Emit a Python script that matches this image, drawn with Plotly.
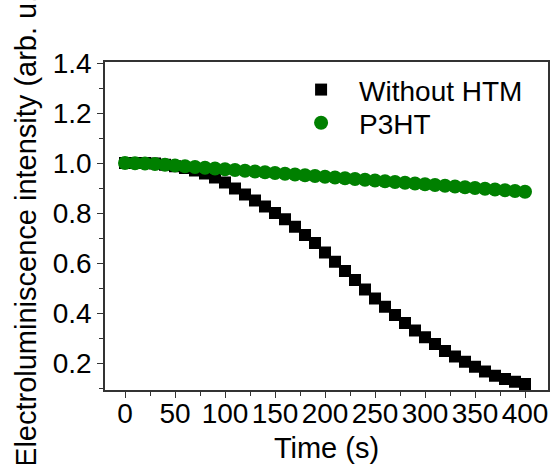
import plotly.graph_objects as go

# Time axis (s), sampled every 10 s
time_s = [0, 10, 20, 30, 40, 50, 60, 70, 80, 90, 100, 110, 120, 130, 140, 150,
          160, 170, 180, 190, 200, 210, 220, 230, 240, 250, 260, 270, 280, 290,
          300, 310, 320, 330, 340, 350, 360, 370, 380, 390, 400]

# Normalised electroluminescence intensity
without_htm = [1.000, 1.000, 1.000, 0.998, 0.993, 0.987, 0.980, 0.970, 0.958, 0.942,
               0.922, 0.898, 0.874, 0.850, 0.826, 0.800, 0.775, 0.745, 0.712, 0.680,
               0.642, 0.605, 0.568, 0.532, 0.494, 0.458, 0.425, 0.392, 0.360, 0.330,
               0.303, 0.276, 0.248, 0.226, 0.205, 0.185, 0.166, 0.149, 0.136, 0.125,
               0.116]
p3ht = [1.000, 0.999, 0.998, 0.996, 0.993, 0.990, 0.987, 0.984, 0.981, 0.978,
        0.975, 0.972, 0.969, 0.966, 0.963, 0.960, 0.957, 0.954, 0.951, 0.948,
        0.945, 0.942, 0.939, 0.936, 0.933, 0.930, 0.927, 0.924, 0.921, 0.918,
        0.915, 0.912, 0.909, 0.906, 0.903, 0.900, 0.897, 0.894, 0.891, 0.888,
        0.885]

series_names = ["Without HTM", "P3HT"]
x_ticks = [0, 50, 100, 150, 200, 250, 300, 350, 400]
y_ticks = [0.2, 0.4, 0.6, 0.8, 1.0, 1.2, 1.4]

FONT = "Arial, Liberation Sans, Helvetica, sans-serif"

fig = go.Figure()
fig.add_trace(go.Scatter(
    x=time_s, y=without_htm, mode="markers", name=series_names[0],
    marker=dict(symbol="square", size=12, color="black", line=dict(width=0)),
    legend="legend",
))
fig.add_trace(go.Scatter(
    x=time_s, y=p3ht, mode="markers", name=series_names[1],
    marker=dict(symbol="circle", size=14, color="#008000", line=dict(width=0)),
    legend="legend2",
))

axis_common = dict(
    showline=True, linecolor="#333333", linewidth=1.5, mirror=True,
    ticks="outside", ticklen=6, tickwidth=1.2, tickcolor="#333333",
    showgrid=False, zeroline=False,
    tickfont=dict(family=FONT, size=28, color="black"),
)

fig.update_xaxes(
    range=[-20, 423], tickvals=x_ticks, ticklabelstandoff=-8,
    minor=dict(dtick=25, tick0=0, ticks="outside", ticklen=4, tickcolor="#333333"),
    title=dict(text="Time (s)", font=dict(family=FONT, size=29, color="black"), standoff=10),
    **axis_common,
)
fig.update_yaxes(
    range=[0.092, 1.404], tickvals=y_ticks, tickformat=".1f",
    minor=dict(dtick=0.1, tick0=0, ticks="outside", ticklen=4, tickcolor="#333333"),
    title=dict(text="Electroluminiscence intensity (arb. u.)",
               font=dict(family=FONT, size=29, color="black"), standoff=8),
    **axis_common,
)

legend_style = dict(
    xanchor="left", yanchor="middle", x=0.402,
    bgcolor="rgba(0,0,0,0)", itemwidth=66,
    font=dict(family=FONT, size=28, color="black"),
)

fig.update_layout(
    width=553, height=464,
    margin=dict(l=105, r=3, t=62, b=74),
    paper_bgcolor="white", plot_bgcolor="white",
    showlegend=True,
    legend=dict(y=0.915, **legend_style),
    legend2=dict(y=0.814, **legend_style),
)

fig.write_html("out.html")
